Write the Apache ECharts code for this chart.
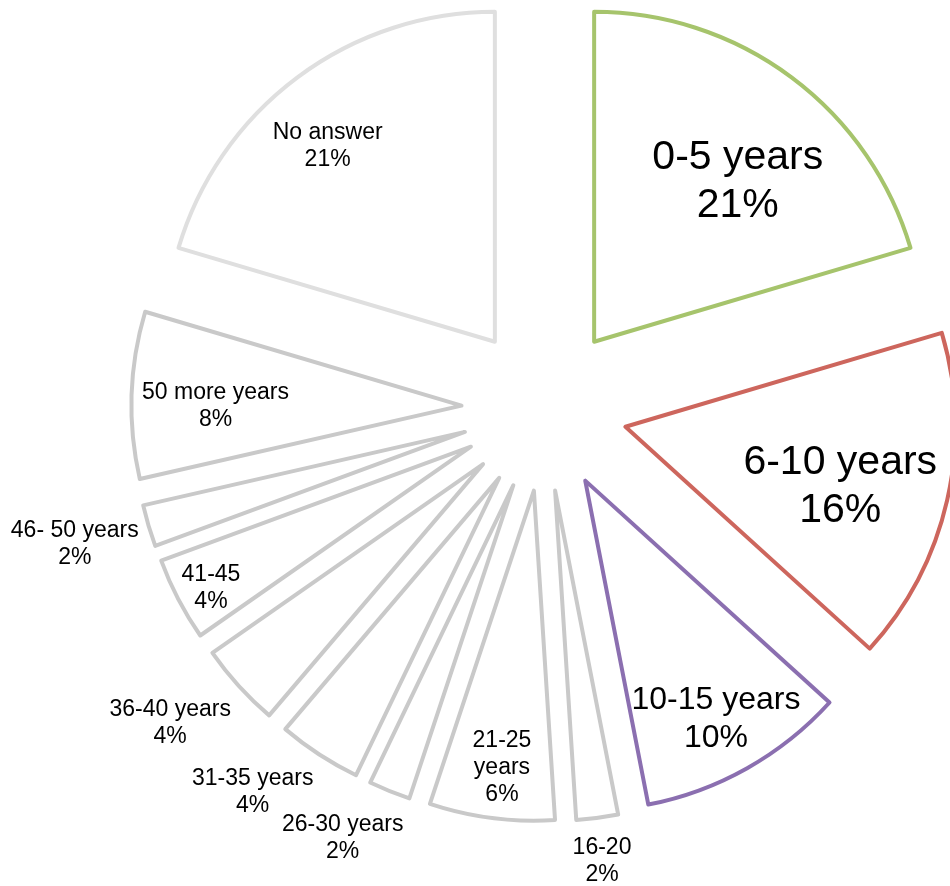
<!DOCTYPE html>
<html>
<head>
<meta charset="utf-8">
<script src="https://cdn.jsdelivr.net/npm/echarts@6/dist/echarts.min.js"></script>
<style>
  html, body { margin: 0; padding: 0; background: #ffffff; }
  #chart { width: 950px; height: 886px; }
</style>
</head>
<body>
<div id="chart"></div>
<script>
// ---- data (counts give the Excel percentages) ----
const categories = ['0-5 years', '6-10 years', '10-15 years', '16-20', '21-25 years', '26-30 years',
                    '31-35 years', '36-40 years', '41-45', '46- 50 years', '50 more years', 'No answer'];
const counts = [10, 8, 5, 1, 3, 1, 2, 2, 2, 1, 4, 10];

// ---- styling (not data) ----
const borderColors = ['#a6c46c', '#cd665d', '#8b6fb0', '#c9c9c9', '#c9c9c9', '#c9c9c9',
                      '#c9c9c9', '#c9c9c9', '#c9c9c9', '#c9c9c9', '#c9c9c9', '#dfdfdf'];
const labelFontSizes = [41, 41, 32, 23, 23, 23, 23, 23, 23, 23, 23, 23];
const wrapNameLabels = ['21-25 years'];
// label placement: distance from pie centre and small turn from slice mid-angle (Excel best-fit look)
const labelRadius = [298, 306, 355, 456, 362, 475, 482, 489, 379, 489, 329, 340];
const labelTurn   = [3.7, 2.0, 0.5, 0.1, -0.6, 3.1, 4.2, 2.2, -0.8, 0.4, -1.5, -2.9];

const CX = 544.5, CY = 408.3, R = 330, EXPLODE = 83;

const total = counts.reduce((a, b) => a + b, 0);
const midAngles = [];
let acc = 0;
counts.forEach(v => { midAngles.push((acc + v / 2) / total * 360); acc += v; });

const chart = echarts.init(document.getElementById('chart'), null, { renderer: 'canvas' });

// one pie series per exploded slice: same data (same angles), centre pushed out along that slice's mid-angle
const series = categories.map((_, i) => {
  const a = midAngles[i] * Math.PI / 180;
  return {
    type: 'pie',
    center: [CX + EXPLODE * Math.sin(a), CY - EXPLODE * Math.cos(a)],
    radius: [0, R],
    startAngle: 90,
    clockwise: true,
    percentPrecision: 0,
    avoidLabelOverlap: false,
    minShowLabelAngle: 0,
    silent: true,
    emphasis: { disabled: true },
    itemStyle: { borderJoin: 'round' },
    label: {
      position: 'inside',
      color: '#000000',
      fontFamily: '"Liberation Sans", Arial, Helvetica, sans-serif',
      formatter: p => (wrapNameLabels.indexOf(p.name) >= 0 ? p.name.replace(' ', '\n') : p.name) + '\n' + p.percent + '%'
    },
    labelLine: { show: false },
    labelLayout: function (params) {
      const j = params.dataIndex;
      const b = (midAngles[j] + labelTurn[j]) * Math.PI / 180;
      return {
        x: CX + labelRadius[j] * Math.sin(b),
        y: CY - labelRadius[j] * Math.cos(b),
        align: 'center',
        verticalAlign: 'middle'
      };
    },
    data: categories.map((name, j) => ({
      name: name,
      value: counts[j],
      itemStyle: j === i
        ? { color: '#ffffff', borderColor: borderColors[j], borderWidth: 4, borderJoin: 'round' }
        : { color: 'rgba(0,0,0,0)', borderWidth: 0 },
      label: {
        show: j === i,
        fontSize: labelFontSizes[j],
        lineHeight: Math.round(labelFontSizes[j] * 1.18)
      }
    }))
  };
});

chart.setOption({
  backgroundColor: '#ffffff',
  animation: false,
  series: series
});
</script>
</body>
</html>
